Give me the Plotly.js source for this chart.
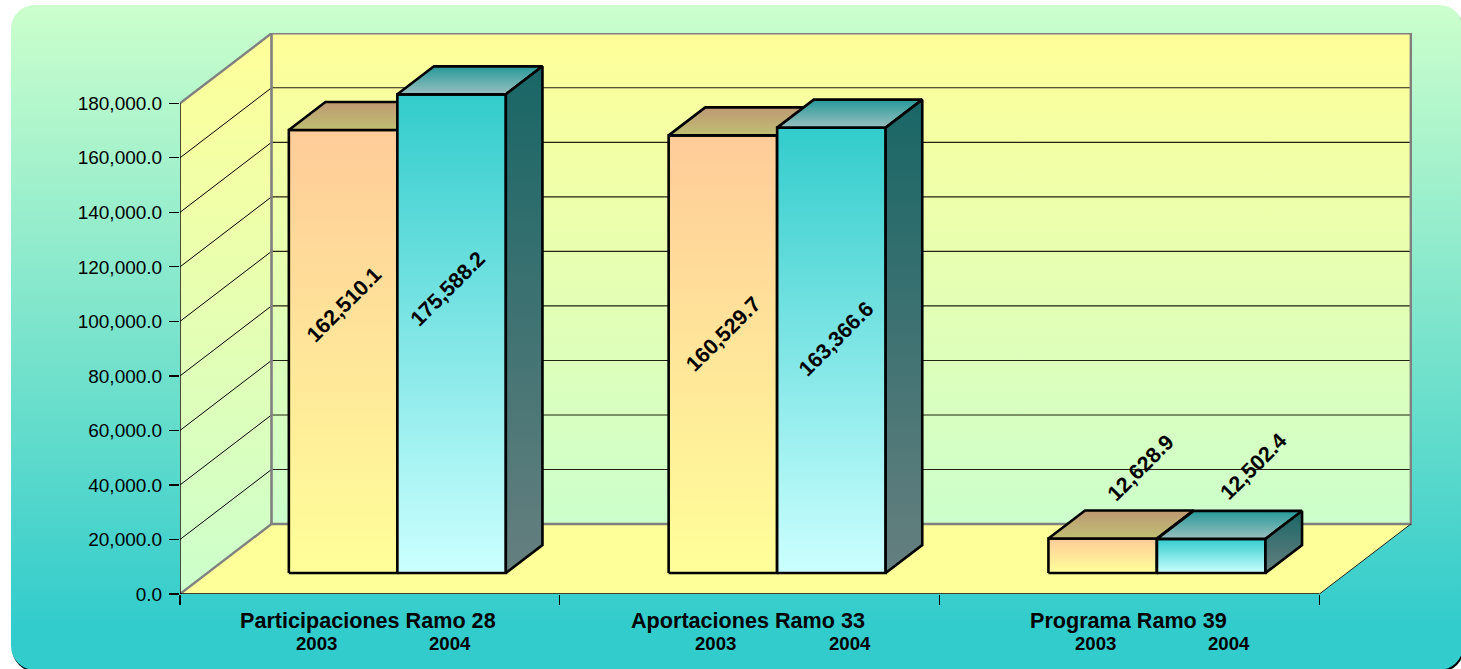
<!DOCTYPE html>
<html><head><meta charset="utf-8">
<script src="https://cdn.plot.ly/plotly-3.0.1.min.js"></script>
<style>
html,body{margin:0;padding:0;background:#fff;width:1461px;height:669px;overflow:hidden}
#bg{position:absolute;left:11px;top:5px;width:1452px;height:665px;border-radius:24px;background:linear-gradient(180deg,#CCFFCC 0%,#33CCCC 93%,#33CCCC 100%)}
#shadow{position:absolute;left:12px;top:7px;width:1452px;height:665px;border-radius:24px;background:#000}
#chart{position:absolute;left:0;top:0;width:1461px;height:669px}
</style></head><body>
<div id="shadow"></div><div id="bg"></div><div id="chart"></div>
<script>
const categories=["Participaciones Ramo 28","Aportaciones Ramo 33","Programa Ramo 39"];
const years=["2003","2004"];
const values2003=[162510.1,160529.7,12628.9];
const values2004=[175588.2,163366.6,12502.4];
const tickValues=[0,20000,40000,60000,80000,100000,120000,140000,160000,180000];

const FONT="'Liberation Sans', Arial, sans-serif";
const AXMAX=180000;
const PXY=490.7/AXMAX, PXX=379.8;   // pixels per value, pixels per category
const PLOTH=561, PLOTW=1232;
const YMAX=PLOTH/PXY;
const DX=91.5/PXX, DY=70/PXY;       // oblique shift for the full floor depth
const GAP=0.75, BAR=1/(2+2*GAP);
const Z0=0.3, Z1=0.7;

const P=(x,v,z)=>[x+z*DX, v+z*DY];
function poly(pts,opts){
  const pp=pts.map(p=>P(p[0],p[1],p[2]));
  pp.push(pp[0]);
  const t={type:'scatter',mode:'lines',x:pp.map(p=>p[0]),y:pp.map(p=>p[1]),
    hoverinfo:'skip',showlegend:false,cliponaxis:false,
    line:{color:opts.line||'rgba(0,0,0,0)',width:opts.lw===undefined?0:opts.lw,shape:'linear',simplify:false}};
  if(opts.fill||opts.grad){t.fill='toself';}
  if(opts.fill)t.fillcolor=opts.fill;
  if(opts.grad)t.fillgradient={type:'vertical',colorscale:[[0,opts.grad[1]],[1,opts.grad[0]]]};
  return t;
}
function seg(a,b,color,w){
  const p=P(a[0],a[1],a[2]),q=P(b[0],b[1],b[2]);
  return {type:'scatter',mode:'lines',x:[p[0],q[0]],y:[p[1],q[1]],hoverinfo:'skip',showlegend:false,cliponaxis:false,
    line:{color:color,width:w}};
}
const N=categories.length;
const traces=[];
const YEL='#FFFF99', GRN='#CCFFCC', GREY='#808080';
// side wall, back wall, floor
traces.push(poly([[0,0,0],[0,0,1],[0,AXMAX,1],[0,AXMAX,0]],{grad:[YEL,GRN]}));
traces.push(poly([[0,0,1],[N,0,1],[N,AXMAX,1],[0,AXMAX,1]],{grad:[YEL,GRN]}));
traces.push(poly([[0,0,0],[N,0,0],[N,0,1],[0,0,1]],{fill:YEL}));
// grid
tickValues.slice(1,-1).forEach(v=>{
  traces.push(seg([0,v,0],[0,v,1],'#000',1));
  traces.push(seg([0,v,1],[N,v,1],'#222211',1.1));
});
// wall edges
traces.push(seg([0,AXMAX,0],[0,AXMAX,1],GREY,2.4));
traces.push(seg([0,0,0],[0,0,1],GREY,2.4));
traces.push(poly([[0,0,1],[N,0,1],[N,AXMAX,1],[0,AXMAX,1]],{line:GREY,lw:2.6}));
traces.push(seg([0,0,0],[0,AXMAX,0],'#000',1.4));
traces.push(seg([0,0,0],[N,0,0],'#000',1.6));
traces.push(seg([N,0,0],[N,0,1],'#222',1));
// bars
const BW=2.6;
function bar(i,s,v,front,top,side){
  const x0=i+GAP*BAR+s*BAR, x1=x0+BAR;
  traces.push(poly([[x0,0,Z0],[x1,0,Z0],[x1,v,Z0],[x0,v,Z0]],{grad:[front[0],front[1]],line:'#000',lw:BW}));
  traces.push(poly([[x0,v,Z0],[x1,v,Z0],[x1,v,Z1],[x0,v,Z1]],{grad:[top[0],top[1]],line:'#000',lw:BW}));
  traces.push(poly([[x1,0,Z0],[x1,0,Z1],[x1,v,Z1],[x1,v,Z0]],{grad:[side[0],side[1]],line:'#000',lw:BW}));
}
const C1={f:['#FFCC99','#FFFF99'],t:['#BF9973','#BFBF73'],s:['#7F664C','#7F7F4C']};
const C2={f:['#33CCCC','#CCFFFF'],t:['#269999','#99BFBF'],s:['#196666','#667F7F']};
categories.forEach((c,i)=>{
  bar(i,0,values2003[i],C1.f,C1.t,C1.s);
  bar(i,1,values2004[i],C2.f,C2.t,C2.s);
});

const annotations=[];
// label nudges (px) as placed by hand in the source chart
const nudge=[[1,46],[-4,45],[1,20],[5,11],[38,88],[42,89]];
const yearNudge=[13,33,33];
const titleNudge=[-2,-2,-1];
categories.forEach((c,i)=>{
  annotations.push({x:i+0.5,y:-0.048,xref:'x',yref:'paper',text:'<b>'+c+'</b>',showarrow:false,xshift:titleNudge[i],
    xanchor:'center',yanchor:'middle',font:{family:FONT,size:21.6,color:'#000'}});
  [0,1].forEach(s=>{
    annotations.push({x:i+0.5+(s-0.5)*0.352,y:-0.088,xref:'x',yref:'paper',text:'<b>'+years[s]+'</b>',showarrow:false,
      xshift:yearNudge[i],xanchor:'center',yanchor:'middle',font:{family:FONT,size:18.6,color:'#000'}});
    const v=(s?values2004:values2003)[i];
    const txt=v.toLocaleString('en-US',{minimumFractionDigits:1,maximumFractionDigits:1});
    const n=nudge[i*2+s];
    annotations.push({x:i+GAP*BAR+(s+0.5)*BAR+Z0*DX,y:v/2+Z0*DY,xref:'x',yref:'y',text:'<b>'+txt+'</b>',
      showarrow:false,textangle:-45,xshift:n[0],yshift:n[1],xanchor:'center',yanchor:'middle',
      font:{family:FONT,size:21.4,color:'#000'}});
  });
});

const layout={
  width:1461,height:669,autosize:false,showlegend:false,
  paper_bgcolor:'rgba(0,0,0,0)',plot_bgcolor:'rgba(0,0,0,0)',
  margin:{l:180,r:49,t:33,b:75,pad:0},
  font:{family:FONT,color:'#000'},
  xaxis:{range:[0,PLOTW/PXX],showgrid:false,zeroline:false,showline:false,ticks:'outside',ticklen:10,tickwidth:1.2,tickcolor:'#000',
    tickvals:[0,1,2,3],ticktext:['','','',''],fixedrange:true},
  yaxis:{range:[0,YMAX],showgrid:false,zeroline:false,showline:false,ticks:'outside',ticklen:10,tickwidth:1.2,tickcolor:'#000',
    tickvals:tickValues,ticktext:tickValues.map(v=>v.toLocaleString('en-US',{minimumFractionDigits:1,maximumFractionDigits:1})),
    tickfont:{family:FONT,size:19,color:'#000'},ticklabelstandoff:3,fixedrange:true},
  annotations:annotations
};
Plotly.newPlot('chart',traces,layout,{staticPlot:true,displayModeBar:false});
</script>
</body></html>
